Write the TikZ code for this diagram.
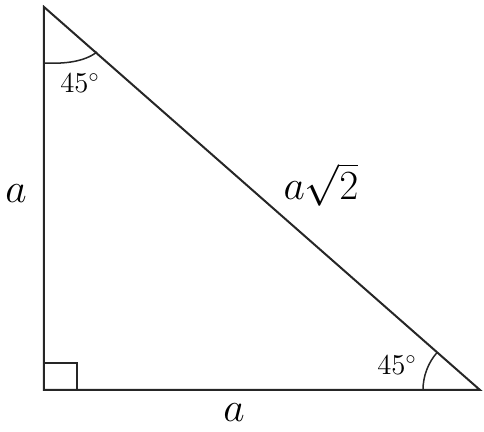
\documentclass[tikz,border=0pt]{standalone}
\begin{document}
\begin{tikzpicture}[x=0.5pt,y=-0.5pt,
  edge/.style={line width=1pt,black!85},
  thin/.style={line width=0.75pt,black!85},
  biglabel/.style={font=\fontsize{22}{27}\selectfont,inner sep=0pt,anchor=base},
  anglabel/.style={font=\fontsize{14}{17}\selectfont,inner sep=0pt,anchor=base}]
\useasboundingbox (0,0) rectangle (484,432);
\coordinate (A) at (44,7);
\coordinate (B) at (44,390);
\coordinate (C) at (480,390);
\draw[edge] (A) -- (B) -- (C) -- cycle;
% right angle mark
\coordinate (R1) at (44,363);
\coordinate (R2) at (77,363);
\coordinate (R3) at (77,390);
\draw[thin] (R1) -- (R2) -- (R3);
% top angle arc
\coordinate (T1) at (44,63);
\coordinate (T2) at (97,52);
\draw[thin] (T1) .. controls (64,64) and (84,62) .. (T2);
% bottom-right angle arc
\coordinate (S1) at (423,390);
\draw[thin] (S1) arc[start angle=180,end angle=221.3,radius=57];
% labels
\node[biglabel] (la) at (16,203) {$a$};
\node[biglabel] (lb) at (234,422) {$a$};
\node[biglabel] (lh) at (321,200) {$a\sqrt{2}$};
\node[anglabel] (g1) at (80,93) {$45^\circ$};
\node[anglabel] (g2) at (397,375) {$45^\circ$};
\end{tikzpicture}
\end{document}
